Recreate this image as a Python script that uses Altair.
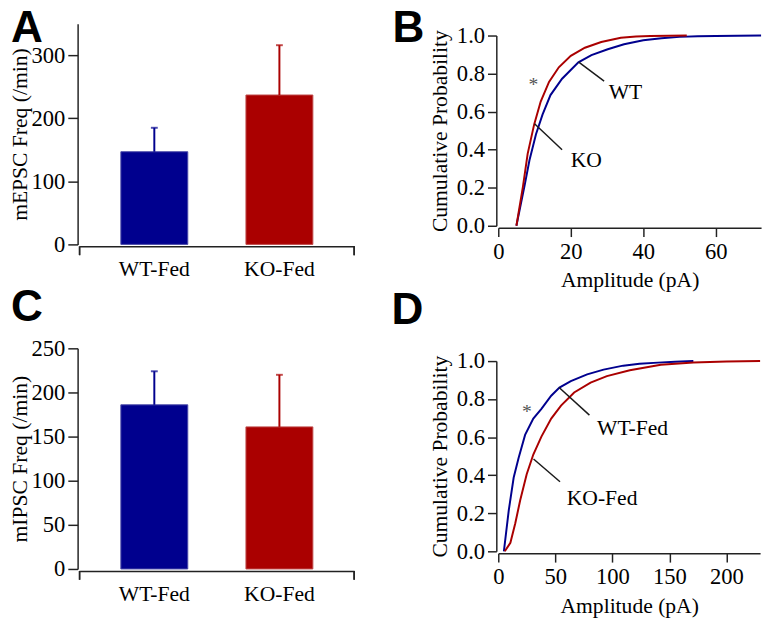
import altair as alt
import pandas as pd

# ---------------- data ----------------
bar_groups = ["WT-Fed", "KO-Fed"]
mepsc_mean = [147, 237]
mepsc_upper = [185, 316]
mipsc_mean = [186, 161]
mipsc_upper = [224, 220]

# Panel B cumulative curves (amplitude pA, cumulative probability)
b_wt_x = [5, 7.2, 8.6, 10.4, 12.2, 14.4, 17.6, 22.1, 25.7, 30.2, 34.7, 40, 45, 50, 55, 60, 66, 72.5]
b_wt_y = [0, 0.206, 0.344, 0.481, 0.584, 0.687, 0.773, 0.859, 0.897, 0.928, 0.954, 0.975, 0.986, 0.993, 0.996, 0.998, 0.999, 1.0]
b_ko_x = [5, 6.8, 8.1, 9.9, 11.7, 14, 16.7, 20, 23.9, 28.4, 33.8, 38, 42, 47, 52]
b_ko_y = [0, 0.206, 0.378, 0.533, 0.653, 0.756, 0.833, 0.893, 0.936, 0.966, 0.988, 0.995, 0.998, 0.999, 1.0]

# Panel D cumulative curves
d_wt_x = [4.9, 9.2, 13.5, 17.8, 23.5, 30.7, 37.8, 46.4, 53.6, 63.6, 77.9, 92.3, 109.5, 123.8, 140, 155, 171]
d_wt_y = [0, 0.216, 0.388, 0.491, 0.612, 0.698, 0.749, 0.818, 0.861, 0.895, 0.93, 0.955, 0.976, 0.986, 0.992, 0.996, 1.0]
d_ko_x = [5.7, 10.6, 14.9, 19.2, 24.9, 30.7, 37.8, 46.4, 55, 66.5, 80.9, 95.2, 115.3, 142.5, 171, 200, 229.5]
d_ko_y = [0, 0.045, 0.148, 0.268, 0.405, 0.509, 0.603, 0.698, 0.766, 0.835, 0.887, 0.921, 0.952, 0.981, 0.993, 0.998, 1.0]

# annotations: label text, label x, label y, pointer (x1, y1, x2, y2)
b_labels = ["WT", "KO"]
b_label_x = [35.1, 24.3]
b_label_y = [0.70, 0.345]
b_ptr = [(22.2, 0.86, 29.2, 0.76), (10.0, 0.536, 17.6, 0.40)]
b_star = (9.7, 0.76)

d_labels = ["WT-Fed", "KO-Fed"]
d_label_x = [117.7, 91.0]
d_label_y = [0.65, 0.278]
d_ptr = [(53.3, 0.861, 79.9, 0.716), (30.9, 0.485, 54.1, 0.366)]
d_star = (25.0, 0.75)

BAR_FILL = ["#00008e", "#aa0000"]
BAR_EDGE = ["#4a4aa8", "#c04a4a"]
LINE_COL = ["#1c1ca0", "#c02828"]

SERIF = "Liberation Serif, Times New Roman, serif"
LSIZE = 23
TSIZE = 22
LETTER = dict(font="Liberation Sans", fontSize=45, fontWeight="bold", anchor="start",
              color="black", frame="group")


def bar_panel(letter, ytitle, means, uppers, ymax, yvalues, major, dx, offset):
    df = pd.DataFrame({"group": bar_groups, "mean": means, "upper": uppers})
    W, H = 280, 225
    xenc = alt.X("group:N", sort=bar_groups, title=None,
                 scale=alt.Scale(paddingInner=0.465, paddingOuter=0.33),
                 axis=alt.Axis(labelAngle=0, ticks=False, offset=2, labelPadding=13,
                               domainWidth=1.5, labelOverlap=False, labelFontSize=TSIZE))
    yscale = alt.Scale(domain=[0, ymax], nice=False)
    yaxis = alt.Axis(values=yvalues, offset=2, domainWidth=1.5, tickWidth=1.5,
                     tickSize={"condition": {"test": f"datum.value % {major} === 0", "value": 10}, "value": 5},
                     labelExpr=f"datum.value % {major} === 0 ? datum.label : ''",
                     labelPadding=3, titlePadding=0, labelOverlap=False)
    fill = alt.Color("group:N", scale=alt.Scale(domain=bar_groups, range=BAR_FILL), legend=None)
    edge = alt.Stroke("group:N", scale=alt.Scale(domain=bar_groups, range=BAR_EDGE), legend=None)
    bars = alt.Chart(df).mark_bar(strokeWidth=1).encode(
        x=xenc, y=alt.Y("mean:Q", scale=yscale, axis=yaxis, title=ytitle), color=fill, stroke=edge)
    ecol = alt.Color("group:N", scale=alt.Scale(domain=bar_groups, range=BAR_EDGE), legend=None)
    err = alt.Chart(df).mark_rule(strokeWidth=2).encode(
        x=alt.X("group:N", sort=bar_groups), y="mean:Q", y2="upper:Q", color=ecol)
    caps = alt.Chart(df).mark_tick(thickness=2, size=7).encode(
        x=alt.X("group:N", sort=bar_groups), y="upper:Q", color=ecol)
    end_l = alt.Chart(df).mark_rule(color="#222", strokeWidth=1.5).encode(
        x=alt.value(0), y=alt.value(H + 2), y2=alt.value(H + 11))
    end_r = alt.Chart(df).mark_rule(color="#222", strokeWidth=1.5).encode(
        x=alt.value(W), y=alt.value(H + 2), y2=alt.value(H + 11))
    return alt.layer(bars, err, caps, end_l, end_r).properties(
        width=W, height=H,
        title=alt.TitleParams(text=letter, dx=dx, offset=offset, **LETTER))


def cdf_panel(letter, W, xmax, xvalues, major, wt_x, wt_y, ko_x, ko_y, names,
              labels, lab_x, lab_y, ptrs, star, dx, offset):
    rows = []
    for i, (x, y) in enumerate(zip(wt_x, wt_y)):
        rows.append({"amp": x, "prob": y, "series": names[0], "i": i})
    for i, (x, y) in enumerate(zip(ko_x, ko_y)):
        rows.append({"amp": x, "prob": y, "series": names[1], "i": i})
    df = pd.DataFrame(rows)
    H = 206   # plot area; the 0..1 range occupies the lower 194 px
    xaxis = alt.Axis(values=xvalues, offset=2, domainWidth=1.5, tickWidth=1.5,
                     tickSize={"condition": {"test": f"datum.value % {major} === 0", "value": 9}, "value": 5},
                     labelExpr=f"datum.value % {major} === 0 ? datum.label : ''",
                     labelPadding=4, titlePadding=7, labelOverlap=False, labelFlush=False)
    yaxis = alt.Axis(values=[0, 0.2, 0.4, 0.6, 0.8, 1.0], format=".1f", offset=2,
                     domainWidth=1.5, tickWidth=1.5, tickSize=9, labelPadding=3, titlePadding=5,
                     labelOverlap=False, labelFlush=False)
    xs = alt.Scale(domain=[0, xmax], nice=False)
    ys = alt.Scale(domain=[0, 1], nice=False, range=[H, 12])
    lines = alt.Chart(df).mark_line(strokeWidth=2).encode(
        x=alt.X("amp:Q", scale=xs, axis=xaxis, title="Amplitude (pA)"),
        y=alt.Y("prob:Q", scale=ys, axis=yaxis, title="Cumulative Probability"),
        color=alt.Color("series:N", scale=alt.Scale(domain=names, range=LINE_COL), legend=None),
        order="i:Q")
    pdf = pd.DataFrame({"x1": [p[0] for p in ptrs], "y1": [p[1] for p in ptrs],
                        "x2": [p[2] for p in ptrs], "y2": [p[3] for p in ptrs]})
    ptr = alt.Chart(pdf).mark_rule(color="#1a1a1a", strokeWidth=1.5).encode(
        x="x1:Q", y="y1:Q", x2="x2:Q", y2="y2:Q")
    ldf = pd.DataFrame({"t": labels, "x": lab_x, "y": lab_y})
    txt = alt.Chart(ldf).mark_text(font=SERIF, fontSize=TSIZE, color="black").encode(
        x="x:Q", y="y:Q", text="t:N")
    sdf = pd.DataFrame({"x": [star[0]], "y": [star[1]], "t": ["*"]})
    st = alt.Chart(sdf).mark_text(font=SERIF, fontSize=20, color="#555", baseline="middle", dy=4).encode(
        x="x:Q", y="y:Q", text="t:N")
    return alt.layer(lines, ptr, txt, st).properties(
        width=W, height=H,
        title=alt.TitleParams(text=letter, dx=dx, offset=offset, **LETTER))


A = bar_panel("A", "mEPSC Freq (/min)", mepsc_mean, mepsc_upper, 350,
              [0, 50, 100, 150, 200, 250, 300], 100, -70, -28)
C = bar_panel("C", "mIPSC Freq (/min)", mipsc_mean, mipsc_upper, 250,
              [0, 50, 100, 150, 200, 250], 50, -70, 8)
B = cdf_panel("B", 268, 72.5, [0, 10, 20, 30, 40, 50, 60, 70], 20,
              b_wt_x, b_wt_y, b_ko_x, b_ko_y, ["WT", "KO"],
              b_labels, b_label_x, b_label_y, b_ptr, b_star, -108, -28)
D = cdf_panel("D", 267, 229.5, [0, 50, 100, 150, 200], 50,
              d_wt_x, d_wt_y, d_ko_x, d_ko_y, ["WT-Fed", "KO-Fed"],
              d_labels, d_label_x, d_label_y, d_ptr, d_star, -109, 17)

left = alt.vconcat(A, C, spacing=6)
right = alt.vconcat(B, D, spacing=-2)
chart = alt.hconcat(left, right, spacing=37).properties(
    padding={"left": 0, "top": -7, "right": 0, "bottom": 0}
).configure_view(
    stroke=None
).configure_axis(
    grid=False, domainColor="#222", tickColor="#222",
    labelFont=SERIF, labelFontSize=LSIZE, labelColor="black",
    titleFont=SERIF, titleFontSize=TSIZE, titleFontWeight="normal", titleColor="black"
).configure_title(
    font="Liberation Sans", fontSize=45, fontWeight="bold"
)

chart.save("out.html", embed_options={"renderer": "svg", "actions": False})
